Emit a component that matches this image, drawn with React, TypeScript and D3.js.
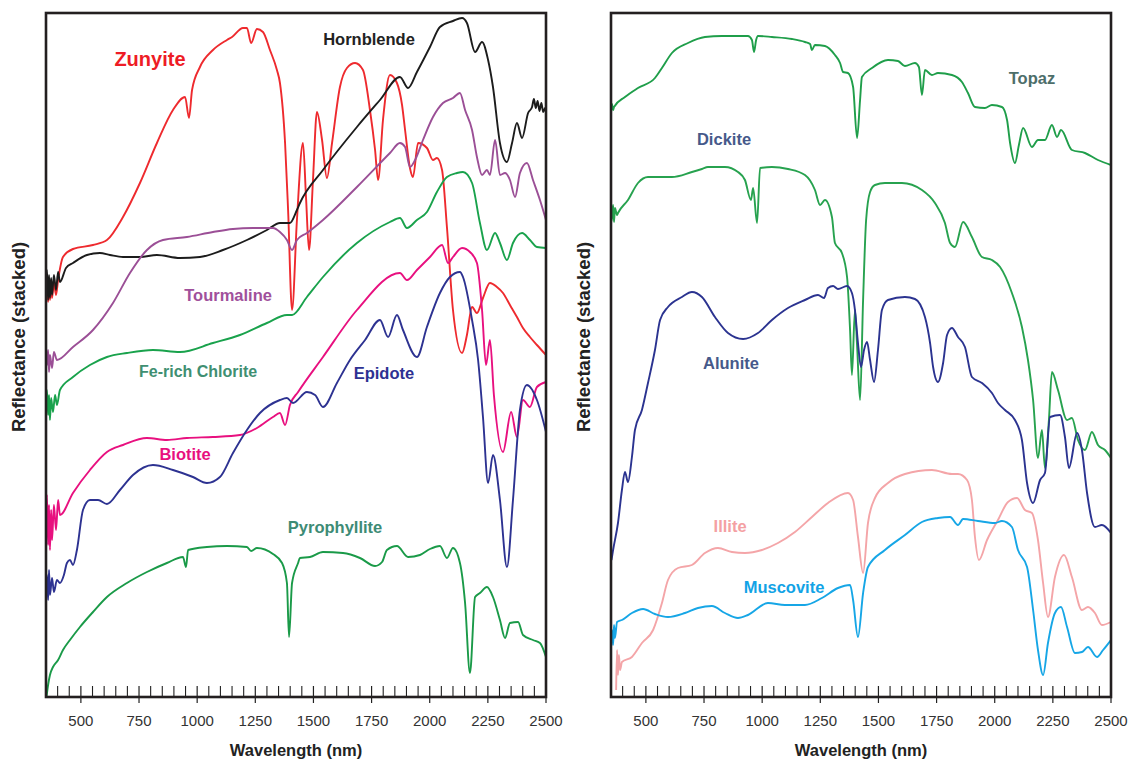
import * as d3 from "d3";

// wavelength (nm), stacked reflectance (arbitrary units, offset per mineral)
const zunyite = [[350,40.5],[354,41.9],[359,39.5],[363,41.5],[367,39.7],[372,41.2],[376,39.9],[384,41.4],[393,40.2],[402,41.7],[423,44.0],[466,44.8],[552,45.2],[612,45.7],[681,48.0],[754,51.4],[827,55.4],[896,58.7],[948,60.0],[965,57.9],[978,60.7],[1012,63.0],[1068,64.7],[1128,65.7],[1150,66.0],[1197,66.9],[1214,66.9],[1232,65.4],[1257,66.8],[1283,66.5],[1313,64.7],[1343,62.7],[1356,61.4],[1378,55.4],[1391,48.7],[1408,38.7],[1429,47.7],[1455,55.4],[1468,50.0],[1481,44.7],[1498,51.7],[1515,58.5],[1537,55.7],[1558,51.9],[1580,55.4],[1614,61.0],[1644,62.9],[1679,63.4],[1713,62.7],[1743,58.7],[1765,54.7],[1778,51.7],[1799,57.7],[1829,62.2],[1859,61.4],[1881,59.2],[1894,56.7],[1915,52.9],[1928,52.0],[1950,55.4],[1988,54.9],[2014,53.7],[2031,53.9],[2053,52.7],[2074,47.0],[2100,38.7],[2139,34.4],[2160,36.2],[2182,39.0],[2203,38.4],[2229,39.9],[2259,41.4],[2289,41.0],[2315,40.4],[2345,39.2],[2375,38.0],[2401,36.9],[2431,36.0],[2461,35.2],[2500,34.2]];
const hornblende = [[350,41.0],[354,42.7],[359,39.7],[363,42.2],[367,39.9],[372,41.9],[376,40.2],[384,42.2],[393,40.7],[402,42.5],[410,41.5],[436,42.9],[466,43.4],[526,44.2],[582,44.4],[625,44.2],[681,44.0],[754,44.0],[827,44.2],[926,43.9],[1012,44.0],[1111,44.7],[1214,45.7],[1300,46.7],[1356,47.4],[1399,47.4],[1429,48.7],[1442,49.4],[1541,52.7],[1687,57.0],[1786,59.7],[1872,62.0],[1907,60.9],[1945,62.5],[2001,65.0],[2044,67.0],[2100,67.6],[2139,67.9],[2160,67.4],[2195,64.5],[2225,65.5],[2251,63.7],[2272,61.0],[2302,55.4],[2332,53.5],[2354,55.4],[2375,57.4],[2397,55.9],[2423,58.4],[2440,59.0],[2448,59.8],[2456,58.9],[2464,59.6],[2472,58.6],[2480,59.4],[2488,58.5],[2496,58.9],[2500,58.4]];
const tourmaline = [[350,33.5],[354,33.2],[359,34.7],[363,32.5],[367,34.2],[376,32.9],[384,34.5],[397,33.7],[466,35.0],[552,36.7],[638,39.4],[711,42.4],[784,44.7],[853,45.7],[956,46.0],[1068,46.5],[1154,46.8],[1240,46.9],[1326,46.9],[1356,46.5],[1386,45.7],[1408,44.7],[1429,45.7],[1472,46.4],[1541,47.7],[1687,51.0],[1829,54.4],[1872,55.4],[1894,55.0],[1915,53.0],[1937,53.7],[1971,55.7],[2014,58.0],[2057,59.4],[2100,59.9],[2130,60.4],[2152,58.7],[2182,56.7],[2203,54.0],[2225,52.2],[2246,52.7],[2259,52.2],[2281,55.7],[2302,52.2],[2324,52.4],[2345,51.7],[2367,50.0],[2388,52.4],[2418,53.4],[2444,51.7],[2474,49.7],[2500,47.7]];
const chlorite = [[350,30.0],[354,30.7],[359,28.2],[363,30.2],[367,27.7],[372,29.9],[380,28.5],[389,30.2],[397,29.2],[410,30.7],[466,32.0],[539,33.2],[612,34.0],[698,34.4],[810,34.7],[926,34.5],[1068,35.4],[1184,36.2],[1300,37.4],[1386,38.2],[1408,38.2],[1472,40.0],[1541,42.0],[1687,45.4],[1829,47.5],[1872,47.9],[1902,46.9],[1945,47.7],[1988,48.5],[2031,50.5],[2074,52.0],[2117,52.4],[2143,52.5],[2182,51.4],[2216,47.4],[2246,44.7],[2281,46.4],[2302,45.4],[2332,43.7],[2358,45.4],[2397,46.4],[2431,45.7],[2461,45.0],[2500,44.9]];
const biotite = [[350,17.5],[354,20.2],[359,15.2],[363,19.2],[367,14.7],[372,18.7],[376,15.7],[384,19.2],[393,16.7],[402,19.7],[410,18.2],[466,20.4],[539,22.7],[612,24.5],[681,25.2],[784,25.9],[870,25.7],[956,25.9],[1068,26.0],[1184,26.2],[1257,26.9],[1326,28.0],[1356,28.4],[1378,27.2],[1399,29.2],[1434,30.5],[1541,34.0],[1687,38.7],[1872,42.4],[1902,41.7],[1945,42.7],[2001,44.0],[2053,45.2],[2079,43.4],[2100,44.0],[2139,44.9],[2173,44.5],[2203,43.4],[2225,38.7],[2242,33.2],[2259,35.7],[2276,30.2],[2315,24.5],[2350,28.5],[2375,26.0],[2401,29.7],[2431,29.0],[2461,31.0],[2500,31.5]];
const epidote = [[350,11.0],[354,12.2],[359,9.7],[363,12.7],[367,10.2],[376,11.9],[384,10.5],[397,11.7],[410,11.4],[427,12.2],[440,13.4],[453,13.7],[466,13.2],[483,14.7],[509,18.7],[539,19.7],[574,19.7],[612,19.3],[668,20.7],[724,22.2],[810,23.2],[896,22.7],[982,22.0],[1042,21.4],[1098,22.0],[1154,24.4],[1214,26.7],[1270,28.4],[1356,29.7],[1386,29.9],[1412,29.4],[1472,30.5],[1507,30.2],[1541,29.0],[1601,31.4],[1657,33.7],[1722,35.7],[1786,37.7],[1821,36.0],[1859,38.2],[1885,36.7],[1945,34.0],[1988,37.0],[2044,40.4],[2087,42.0],[2130,42.5],[2143,42.0],[2182,37.7],[2208,33.7],[2229,28.0],[2251,21.4],[2272,24.2],[2302,19.7],[2332,13.0],[2358,19.7],[2388,28.7],[2418,31.2],[2461,29.7],[2500,26.5]];
const pyrophyllite = [[352,0.0],[359,1.2],[367,2.2],[380,3.0],[402,3.7],[423,4.7],[453,5.7],[496,7.0],[552,8.5],[612,10.0],[698,11.4],[784,12.5],[870,13.4],[939,14.0],[952,13.0],[961,14.7],[1042,15.0],[1128,15.1],[1214,15.0],[1232,14.6],[1257,14.9],[1326,14.3],[1365,13.4],[1386,11.4],[1395,6.0],[1408,11.4],[1434,13.4],[1442,13.9],[1485,14.0],[1541,14.5],[1627,14.4],[1700,13.9],[1765,13.1],[1795,13.5],[1816,14.7],[1859,15.1],[1907,14.0],[1958,14.2],[2001,14.8],[2044,15.1],[2074,13.9],[2100,14.9],[2130,13.4],[2152,9.4],[2173,2.4],[2195,10.0],[2216,10.4],[2246,11.0],[2272,10.0],[2302,7.7],[2324,5.9],[2345,7.4],[2380,7.5],[2401,6.2],[2444,5.7],[2474,5.4],[2500,4.0]];

const topaz = [[350,58.4],[354,59.3],[359,58.7],[363,59.0],[410,60.0],[466,60.9],[539,61.9],[569,62.9],[612,64.4],[681,65.4],[754,66.0],[827,66.1],[939,66.1],[956,65.7],[965,64.5],[974,65.7],[982,66.1],[1042,66.0],[1128,65.8],[1184,65.5],[1206,65.3],[1214,64.7],[1227,65.2],[1270,65.1],[1313,64.2],[1335,63.4],[1348,62.5],[1369,62.4],[1391,61.0],[1408,55.9],[1421,59.7],[1429,62.0],[1472,62.9],[1541,63.7],[1584,63.6],[1614,63.1],[1657,63.4],[1674,63.0],[1687,60.2],[1700,62.7],[1730,62.2],[1756,62.4],[1816,62.2],[1859,61.5],[1885,60.4],[1915,59.0],[1958,58.9],[1988,59.2],[2031,59.0],[2053,57.7],[2066,55.4],[2087,53.4],[2104,55.2],[2122,56.9],[2160,55.0],[2186,55.7],[2216,55.7],[2246,57.2],[2268,56.0],[2285,56.7],[2332,54.7],[2388,54.4],[2444,53.7],[2500,53.2]];
const dickite = [[350,47.5],[354,47.9],[359,49.2],[363,47.5],[367,48.9],[376,48.2],[380,48.4],[423,49.7],[466,51.4],[509,52.0],[612,52.0],[698,52.5],[741,52.8],[767,53.0],[840,53.0],[896,52.5],[926,51.7],[952,49.7],[961,50.9],[978,47.4],[991,52.9],[1042,53.0],[1111,52.8],[1184,52.2],[1227,50.7],[1249,49.2],[1270,49.7],[1300,48.0],[1313,45.4],[1343,44.4],[1365,42.0],[1378,36.7],[1386,32.2],[1399,38.7],[1408,35.2],[1421,29.7],[1434,39.7],[1447,47.7],[1464,50.5],[1485,51.2],[1528,51.4],[1601,51.4],[1687,50.7],[1743,49.4],[1786,47.4],[1808,45.4],[1829,45.0],[1864,47.5],[1902,46.0],[1945,44.0],[1988,43.7],[2023,43.0],[2074,40.4],[2117,37.0],[2143,33.7],[2165,29.7],[2186,23.9],[2203,26.7],[2216,22.9],[2233,27.7],[2246,32.5],[2272,30.7],[2311,27.7],[2332,27.9],[2358,25.7],[2388,24.7],[2418,26.5],[2444,25.2],[2474,24.7],[2500,23.9]];
const alunite = [[352,13.7],[359,14.7],[380,17.4],[397,20.7],[410,22.5],[423,21.5],[440,24.0],[453,26.7],[483,28.7],[509,31.4],[539,34.7],[561,37.7],[595,39.0],[655,40.0],[698,40.5],[741,40.0],[797,38.0],[853,36.4],[918,35.8],[982,36.4],[1042,37.7],[1111,38.9],[1184,39.7],[1240,40.2],[1266,39.9],[1283,40.9],[1305,41.1],[1326,40.8],[1365,41.1],[1386,40.4],[1399,38.7],[1412,35.4],[1425,33.0],[1438,34.7],[1451,35.5],[1464,33.7],[1481,31.5],[1498,34.7],[1515,38.7],[1541,39.7],[1614,40.0],[1657,39.8],[1700,38.0],[1722,35.4],[1735,33.0],[1756,31.5],[1778,33.4],[1795,36.2],[1816,36.9],[1842,36.0],[1872,35.0],[1902,32.0],[1945,31.4],[1988,30.4],[2014,29.4],[2044,28.7],[2087,27.7],[2117,25.7],[2139,21.4],[2165,19.4],[2195,21.7],[2216,22.4],[2238,28.0],[2281,28.2],[2302,26.0],[2319,22.9],[2354,26.4],[2375,24.7],[2397,20.4],[2431,17.0],[2461,17.2],[2500,16.4]];
const illite = [[372,0.7],[376,4.7],[380,2.2],[384,4.2],[389,2.7],[397,3.5],[440,4.0],[483,5.4],[531,6.7],[569,9.4],[595,11.7],[638,12.9],[698,13.2],[754,14.4],[810,14.9],[870,14.5],[926,14.4],[999,14.7],[1068,15.4],[1141,16.5],[1214,18.0],[1283,19.4],[1369,20.4],[1391,19.7],[1412,16.0],[1434,12.4],[1455,17.4],[1485,19.9],[1541,21.4],[1614,22.3],[1730,22.7],[1816,22.3],[1842,22.3],[1881,21.7],[1902,19.7],[1915,16.0],[1932,13.7],[1967,15.7],[2014,17.7],[2057,19.5],[2096,19.9],[2130,18.7],[2160,18.4],[2186,15.7],[2208,11.4],[2229,8.0],[2259,12.0],[2298,14.2],[2332,12.0],[2375,8.7],[2401,9.0],[2431,8.4],[2461,7.2],[2500,7.5]];
const muscovite = [[350,5.4],[354,6.7],[359,5.2],[363,7.2],[367,5.9],[376,7.5],[397,7.7],[440,8.4],[488,8.8],[539,8.3],[595,8.0],[668,8.4],[724,8.9],[784,9.1],[840,8.4],[896,7.9],[939,8.2],[1025,9.4],[1098,9.2],[1184,9.2],[1257,9.9],[1326,10.9],[1378,11.2],[1391,9.7],[1412,6.0],[1434,10.4],[1455,13.0],[1528,14.7],[1614,16.2],[1687,17.5],[1756,17.9],[1808,18.0],[1842,17.2],[1864,17.8],[1928,17.6],[2001,17.4],[2031,17.6],[2074,17.0],[2100,14.7],[2139,13.0],[2165,8.7],[2186,4.7],[2208,2.2],[2229,5.4],[2259,8.4],[2285,9.0],[2311,7.0],[2345,4.4],[2375,4.5],[2401,5.0],[2440,4.0],[2466,4.7],[2500,5.7]];

const tickLabels = [500, 750, 1000, 1250, 1500, 1750, 2000, 2250, 2500];

// name, data, line colour, label colour, label anchor [nm, value], font size
const leftSeries = [
  { name: "Zunyite", data: zunyite, color: "#ee2a2e", text: "#ee1c25", at: [797, 63.1], size: 20 },
  { name: "Hornblende", data: hornblende, color: "#1c1c1c", text: "#222", at: [1739, 65.2], size: 16.5 },
  { name: "Tourmaline", data: tourmaline, color: "#9b4f96", text: "#a0509b", at: [1133, 39.6], size: 16.5 },
  { name: "Fe-rich Chlorite", data: chlorite, color: "#19a24c", text: "#3f8f72", at: [1004, 32.0], size: 16 },
  { name: "Biotite", data: biotite, color: "#e8107f", text: "#e8107f", at: [948, 23.7], size: 16.5 },
  { name: "Epidote", data: epidote, color: "#2d3291", text: "#2e3192", at: [1803, 31.8], size: 16.5 },
  { name: "Pyrophyllite", data: pyrophyllite, color: "#1a9a48", text: "#3d8b75", at: [1593, 16.4], size: 16.5 },
];
const rightSeries = [
  { name: "Topaz", data: topaz, color: "#1f9e4a", text: "#4d6e6a", at: [2160, 61.3], size: 16.5 },
  { name: "Dickite", data: dickite, color: "#27a24f", text: "#46598a", at: [836, 55.2], size: 16.5 },
  { name: "Alunite", data: alunite, color: "#2b3390", text: "#46598a", at: [866, 32.8], size: 16.5 },
  { name: "Illite", data: illite, color: "#f4a5a8", text: "#f4a0a3", at: [862, 16.5], size: 16.5 },
  { name: "Muscovite", data: muscovite, color: "#16a6e6", text: "#12a3e6", at: [1094, 10.4], size: 16.5 },
];

const FONT = "'Liberation Sans', Arial, Helvetica, sans-serif";
const TOP = 13, BOTTOM = 697;

function Panel({ left, right, series }) {
  const x = d3.scaleLinear().domain([350, 2500]).range([left, right]);
  const y = d3.scaleLinear().domain([0, 68.4]).range([BOTTOM, TOP]);
  const path = d3.line().x(d => x(d[0])).y(d => y(d[1])).curve(d3.curveMonotoneX);
  const minor = d3.range(400, 2500, 50).filter(v => v % 250 !== 0);
  const cx = (left + right) / 2;
  return (
    <g>
      {series.map(s => (
        <path key={s.name} d={path(s.data)} fill="none" stroke={s.color} strokeWidth={1.9} strokeLinejoin="round" />
      ))}
      {series.map(s => (
        <text key={s.name + "-l"} x={x(s.at[0])} y={y(s.at[1])} textAnchor="middle" fill={s.text}
          fontSize={s.size} fontWeight="bold" fontFamily={FONT}>{s.name}</text>
      ))}
      {minor.map(t => (
        <line key={"m" + t} x1={x(t)} x2={x(t)} y1={BOTTOM - 11} y2={BOTTOM} stroke="#222" strokeWidth={1.1} />
      ))}
      {tickLabels.map(t => (
        <g key={"M" + t}>
          <line x1={x(t)} x2={x(t)} y1={BOTTOM - 11} y2={BOTTOM + 6} stroke="#222" strokeWidth={1.2} />
          <text x={x(t)} y={BOTTOM + 29} textAnchor="middle" fontSize={15} fill="#333" fontFamily={FONT}>{t}</text>
        </g>
      ))}
      <rect x={left} y={TOP} width={right - left} height={BOTTOM - TOP} fill="none" stroke="#231f20" strokeWidth={2.6} />
      <text x={cx} y={BOTTOM + 59} textAnchor="middle" fontSize={16.5} fontWeight="bold" fill="#222" fontFamily={FONT}>
        Wavelength (nm)
      </text>
      <text transform={`translate(${left - 21},${(TOP + BOTTOM) / 2 - 18}) rotate(-90)`} textAnchor="middle"
        fontSize={18.5} fontWeight="bold" fill="#222" fontFamily={FONT}>Reflectance (stacked)</text>
    </g>
  );
}

export default function App() {
  return (
    <svg width={1131} height={762} style={{ position: "absolute", left: 0, top: 0, background: "#fff" }}>
      <Panel left={46} right={546} series={leftSeries} />
      <Panel left={611} right={1111} series={rightSeries} />
    </svg>
  );
}
